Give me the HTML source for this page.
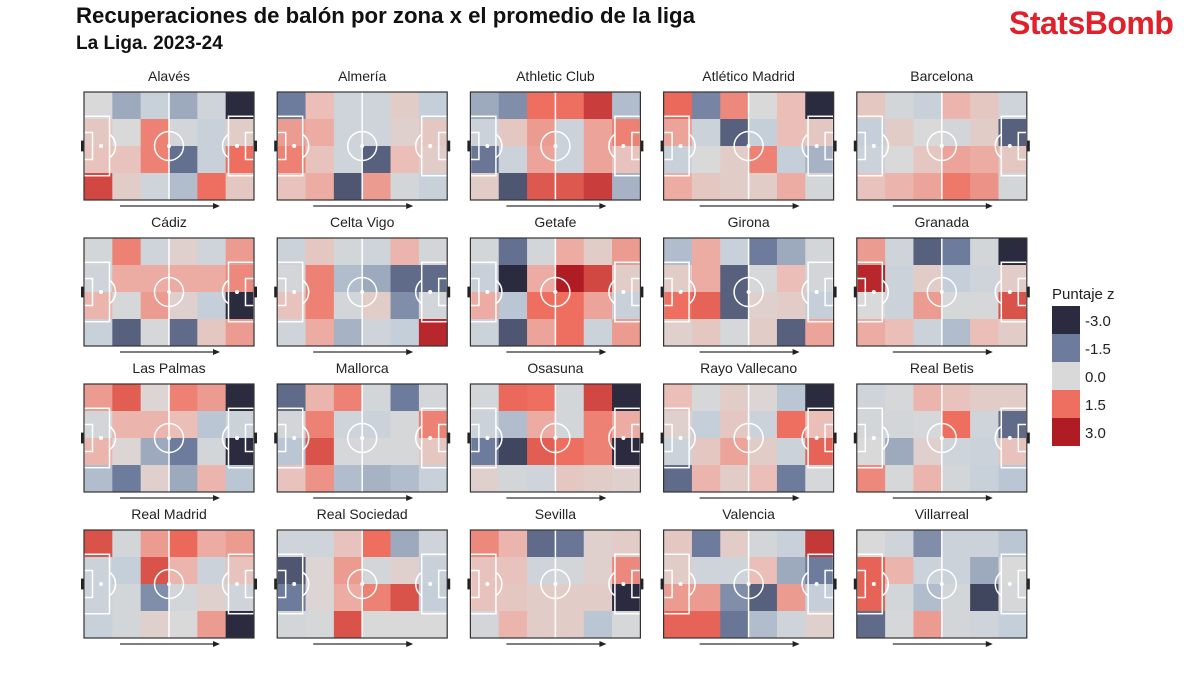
<!DOCTYPE html>
<html><head><meta charset="utf-8">
<style>
body{margin:0;background:#fff;width:1200px;height:675px;overflow:hidden;font-family:"Liberation Sans",sans-serif;}
#title{position:absolute;left:76px;top:3px;font-size:22.2px;font-weight:bold;color:#111;}
#sub{position:absolute;left:76px;top:33px;font-size:19px;font-weight:bold;color:#111;}
#logo{position:absolute;left:1009px;top:5px;font-size:32px;font-weight:bold;color:#e0202a;letter-spacing:-0.5px;}
svg{position:absolute;left:0;top:0;}
</style></head><body>
<div id="title">Recuperaciones de balón por zona x el promedio de la liga</div>
<div id="sub">La Liga. 2023-24</div>
<div id="logo">StatsBomb</div>
<svg id="chart" width="1200" height="675"></svg>
<script>
const teams=["Alavés","Almería","Athletic Club","Atlético Madrid","Barcelona","Cádiz","Celta Vigo","Getafe","Girona","Granada","Las Palmas","Mallorca","Osasuna","Rayo Vallecano","Real Betis","Real Madrid","Real Sociedad","Sevilla","Valencia","Villarreal"];
const zValues=[
[[0,-1,-0.5,-1,-0.3,-3],[0.4,0,1.3,-0.2,-0.5,0.3],[0.5,0.5,1.3,-1.7,-0.5,1.5],[2.2,0.3,-0.3,-0.8,1.5,0.4]],
[[-1.5,0.6,-0.3,-0.3,0.3,-0.6],[1.0,0.8,-0.3,-0.3,0.2,0.4],[1.3,0.5,-0.3,-2.0,0.6,0.3],[0.5,0.8,-2.2,1.0,-0.2,-0.5]],
[[-1.0,-1.3,1.5,1.5,2.4,-0.8],[-0.4,0.4,1.0,-0.4,0.9,1.3],[-1.6,-0.4,0.9,-0.4,0.9,0.5],[0.3,-2.2,1.9,1.9,2.4,-0.9]],
[[1.6,-1.4,1.2,0,0.6,-3],[0.9,-0.4,-2.0,-0.6,0.6,0.4],[-0.5,0,0.3,1.3,-0.6,-0.9],[0.8,0.4,0.3,0.3,0.8,-0.2]],
[[0.4,-0.2,-0.5,0.7,0.4,-0.3],[-0.6,0.3,0,-0.2,0.3,-2.0],[-0.4,0,0.4,0.9,0.8,0.4],[0.5,0.7,0.9,1.4,1.1,-0.2]],
[[-0.2,1.3,-0.3,0.2,-0.3,1.0],[-0.3,0.8,0.8,0.8,0.8,1.2],[0.7,-0.1,1.0,0.2,-0.6,-3],[-0.5,-2.0,-0.1,-1.8,0.4,1.0]],
[[-0.4,0.4,-0.2,-0.3,0.7,-0.2],[-0.2,1.3,-0.8,-1.0,-1.8,-1.8],[0.5,1.3,-0.2,0.3,-1.3,-0.2],[-0.3,0.8,-0.9,-0.3,-0.6,2.8]],
[[-0.2,-1.7,-0.2,0.8,0.3,1.0],[-0.5,-3,0.8,3.0,2.2,0.3],[0.8,-0.7,1.5,1.5,0.9,-0.5],[-0.4,-2.2,0.9,1.5,-0.4,1.0]],
[[-0.8,0.8,-0.5,-1.5,-1.0,-0.2],[0.3,0.8,-2.0,-0.1,0.6,-0.2],[1.5,1.7,-2.0,0.2,0.3,-0.6],[0.2,0.4,-0.1,0.3,-2.0,0.9]],
[[1.0,-0.3,-2.0,-1.5,-0.2,-3],[2.8,-0.4,0.3,-0.6,-0.3,0.3],[0,-0.4,1.0,-0.1,-0.1,2.0],[0.8,0.6,-0.4,-0.8,0.6,0.3]],
[[1.0,1.8,0.1,1.3,1.0,-3],[-0.2,0.7,0.7,0.6,-0.7,-0.4],[0.7,0.1,-1.0,-1.5,-0.2,-3],[-0.8,-1.5,0.2,-1.0,0.7,-0.7]],
[[-1.8,0.7,1.3,-0.2,-1.5,-0.2],[-0.2,1.3,-0.3,-0.4,-0.1,1.3],[-0.7,2.0,-0.1,-0.1,-0.1,0.4],[0.5,1.1,-0.8,-0.9,-0.8,-0.5]],
[[-0.2,1.6,1.5,-0.2,2.2,-3],[-0.4,-0.8,0.8,-0.2,1.3,0.8],[-1.5,-2.5,1.8,1.5,1.3,-3],[0.2,-0.2,-0.3,0.4,0.3,0.2]],
[[0.6,-0.1,0.3,0.1,-0.7,-3],[0.2,-0.6,0.4,-0.4,1.5,0.6],[-0.4,0.4,0.9,0.3,-0.4,1.7],[-1.8,0.7,0.3,0.6,-1.5,-0.1]],
[[-0.3,-0.1,0.7,0.5,0.3,0.3],[-0.2,-0.2,-0.1,1.5,-0.3,-1.8],[0,-1.0,0.2,-0.3,-0.4,0.5],[1.2,-0.1,0.7,-0.2,-0.5,-0.7]],
[[2.0,-0.2,1.0,1.6,0.8,1.0],[-0.4,-0.6,2.0,0.7,-0.4,0.5],[-0.4,-0.2,-1.3,-0.2,0.2,-0.3],[-0.5,-0.2,0.2,0,1.0,-3]],
[[-0.3,-0.3,0.5,1.5,-1.0,-0.3],[-2.2,0.1,1.0,-0.2,0.2,-0.5],[-1.5,0.1,0.8,1.3,2.0,-0.6],[-0.2,-0.1,2.0,0,0,0]],
[[1.2,0.7,-1.8,-1.6,0.2,0.3],[0.5,0.5,-0.3,-0.2,0.2,1.2],[0.5,0.4,0.3,0.3,0.3,-3],[-0.2,0.7,0.3,0.3,-0.7,-0.1]],
[[0.4,-1.5,0.3,-0.2,-0.5,2.5],[0.3,-0.3,-0.3,0.6,-1.0,-1.5],[1.0,1.0,-1.3,-2.0,1.0,-0.6],[1.7,1.7,-1.6,-0.8,-0.3,0.2]],
[[0,-0.3,-1.3,-0.4,-0.4,-0.7],[1.7,0.7,-0.4,-0.4,-1.0,0],[1.7,-0.2,-0.8,-0.2,-2.5,-0.1],[-1.8,-0.1,1.0,-0.2,-0.3,-0.6]]
];
const legendTicks=[-3.0,-1.5,0.0,1.5,3.0];
const legendLabels=["-3.0","-1.5","0.0","1.5","3.0"];

const stops=[[-3,[42,43,63]],[-1.5,[109,123,156]],[-0.6,[196,207,218]],[0,[217,217,217]],[0.6,[235,190,183]],[1.5,[238,111,95]],[3,[176,28,36]]];
function color(v){
  v=Math.max(-3,Math.min(3,v));
  for(let i=0;i<stops.length-1;i++){
    const [a,ca]=stops[i],[b,cb]=stops[i+1];
    if(v<=b){const t=(v-a)/(b-a);return `rgb(${ca.map((c,k)=>Math.round(c+(cb[k]-c)*t)).join(',')})`;}
  }
  return 'rgb(176,28,36)';
}
const NS="http://www.w3.org/2000/svg";
const svg=document.getElementById('chart');
function mk(tag,attrs,parent){const e=document.createElementNS(NS,tag);for(const k in attrs)e.setAttribute(k,attrs[k]);(parent||svg).appendChild(e);return e;}
const PW=170,PH=108,X0=84,Y0=92,DX=193.2,DY=146;
function px(ux,x0){return x0+ux/120*PW;}
function py(uy,y0){return y0+uy/80*PH;}
teams.forEach((team,i)=>{
  const col=i%5,row=Math.floor(i/5);
  const x0=X0+col*DX,y0=Y0+row*DY;
  const g=mk('g',{});
  
  
  const t=mk('text',{x:x0+PW/2,y:y0-11,'text-anchor':'middle','font-size':'14','fill':'#222','font-family':'Liberation Sans, sans-serif'},g);
  t.textContent=team;
  
  
  const vals=zValues[i],nr=vals.length,nc=vals[0].length;
  for(let r=0;r<nr;r++)for(let c=0;c<nc;c++){
    const cell=mk('rect',{x:x0+c*PW/nc,y:y0+r*PH/nr,width:PW/nc+0.5,height:PH/nr+0.5,fill:color(vals[r][c])},g);
    
    
  }
  const L={stroke:'#fff','stroke-width':1.5,fill:'none'};
  mk('line',Object.assign({x1:px(60,x0),y1:y0,x2:px(60,x0),y2:y0+PH},L),g);
  mk('circle',Object.assign({cx:px(60,x0),cy:py(40,y0),r:14.5},L),g);
  mk('circle',{cx:px(60,x0),cy:py(40,y0),r:2,fill:'#fff'},g);
  [0,1].forEach(s=>{
    const bx=s?px(102,x0):x0, sx=s?px(114,x0):x0, bw=18/120*PW, sw=6/120*PW;
    mk('rect',Object.assign({x:bx,y:py(18,y0),width:bw,height:py(62,y0)-py(18,y0)},L),g);
    mk('rect',Object.assign({x:sx,y:py(30,y0),width:sw,height:py(50,y0)-py(30,y0)},L),g);
    const spx=s?px(108,x0):px(12,x0);
    mk('circle',{cx:spx,cy:py(40,y0),r:2,fill:'#fff'},g);
    const ex=s?px(102,x0):px(18,x0), ay=py(40,y0), rr=14.5, dx=ex-spx;
    const h=Math.sqrt(Math.max(0,rr*rr-dx*dx));
    mk('path',Object.assign({d:`M${ex} ${ay-h} A${rr} ${rr} 0 0 ${s?0:1} ${ex} ${ay+h}`},L),g);
    const gx=s?x0+PW:x0-3;
    mk('rect',{x:gx,y:py(36,y0),width:3,height:py(44,y0)-py(36,y0),fill:'#222'},g);
  });
  mk('rect',{x:x0,y:y0,width:PW,height:PH,fill:'none',stroke:'#333','stroke-width':1.2},g);
  const ar=mk('g',{},g);
  
  
  mk('line',{x1:x0+36,y1:y0+PH+6,x2:x0+132,y2:y0+PH+6,stroke:'#333','stroke-width':1.3},ar);
  mk('path',{d:`M${x0+136} ${y0+PH+6} L${x0+129} ${y0+PH+3} L${x0+129} ${y0+PH+9} Z`,fill:'#222'},ar);
});
const lg=mk('g',{});


const lt=mk('text',{x:1052,y:299,'font-size':'15','fill':'#222'},lg);
lt.textContent='Puntaje z';
legendTicks.forEach((v,k)=>{
  const sw=mk('rect',{x:1052,y:306+k*28,width:28,height:28,fill:color(v)},lg);
  
  
  const tx=mk('text',{x:1085,y:326+k*28,'font-size':'15','fill':'#222'},lg);
  tx.textContent=legendLabels[k];
});
</script>
</body></html>
